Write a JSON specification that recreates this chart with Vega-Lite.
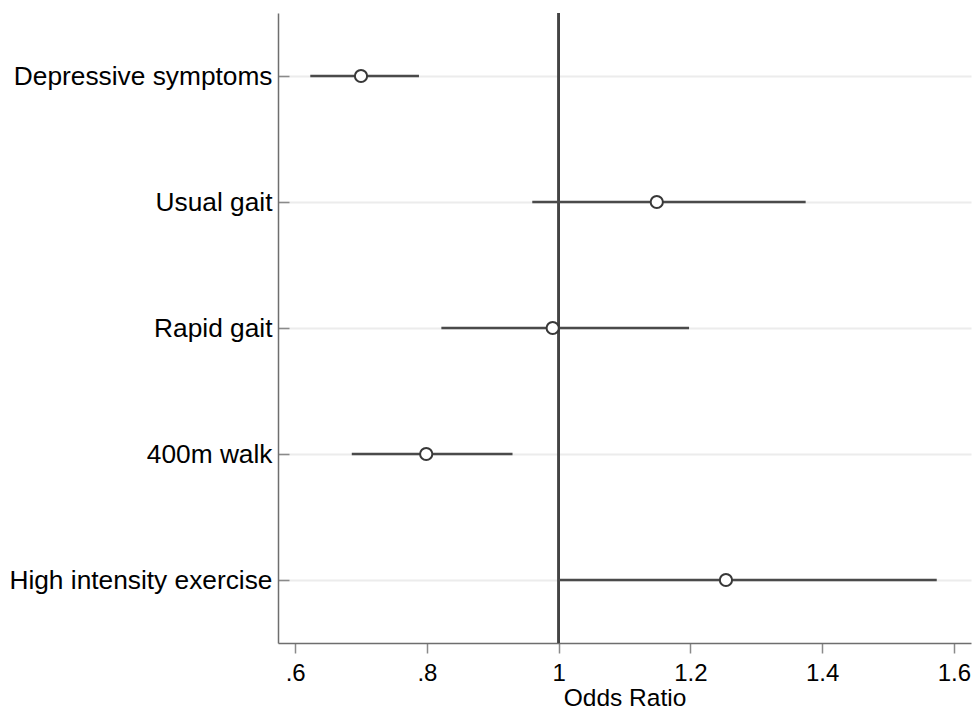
{
  "$schema": "https://vega.github.io/schema/vega-lite/v6.json",
  "autosize": {"type": "none"},
  "width": 693,
  "height": 630,
  "padding": {"left": 278, "top": 13, "right": 3, "bottom": 67},
  "background": "white",
  "config": {
    "view": {"stroke": null},
    "font": "Liberation Sans"
  },
  "data": {
    "values": [
      {"label": "Depressive symptoms", "or": 0.700, "lo": 0.623, "hi": 0.788},
      {"label": "Usual gait", "or": 1.149, "lo": 0.960, "hi": 1.375},
      {"label": "Rapid gait", "or": 0.991, "lo": 0.822, "hi": 1.198},
      {"label": "400m walk", "or": 0.799, "lo": 0.686, "hi": 0.930},
      {"label": "High intensity exercise", "or": 1.254, "lo": 1.000, "hi": 1.574}
    ]
  },
  "encoding": {
    "y": {
      "field": "label",
      "type": "nominal",
      "sort": null,
      "scale": {"type": "point", "padding": 0.5},
      "axis": {
        "title": null,
        "grid": true,
        "gridColor": "#ececec",
        "gridWidth": 2,
        "domainColor": "#6e6e6e",
        "domainWidth": 1.5,
        "tickColor": "#8a8a8a",
        "tickWidth": 1.5,
        "tickSize": -11,
        "labelPadding": 17,
        "labelFontSize": 26.3,
        "labelLimit": 0,
        "labelColor": "#000000",
        "labelFont": "Liberation Sans"
      }
    }
  },
  "layer": [
    {
      "mark": {"type": "rule", "color": "#444444", "strokeWidth": 2},
      "encoding": {
        "x": {"datum": 1, "type": "quantitative"},
        "y": null
      }
    },
    {
      "mark": {"type": "rule", "color": "#4a4a4a", "strokeWidth": 2.5},
      "encoding": {
        "x": {
          "field": "lo",
          "type": "quantitative",
          "scale": {"domain": [0.574, 1.626], "nice": false, "zero": false},
          "axis": {
            "title": "Odds Ratio",
            "titleFontSize": 24.5,
            "titleFontWeight": "normal",
            "titleColor": "#000000",
            "titlePadding": 1,
            "titleFont": "Liberation Sans",
            "values": [0.6, 0.8, 1, 1.2, 1.4, 1.6],
            "labelExpr": "datum.value < 1 ? substring(format(datum.value, '.1f'), 1) : format(datum.value, '~g')",
            "labelFontSize": 24,
            "labelColor": "#000000",
            "labelPadding": 8,
            "labelFlush": false,
            "tickSize": 10,
            "tickColor": "#8a8a8a",
            "tickWidth": 1.5,
            "domainColor": "#6e6e6e",
            "domainWidth": 1.5,
            "grid": false
          }
        },
        "x2": {"field": "hi"}
      }
    },
    {
      "mark": {"type": "point", "shape": "circle", "filled": true, "fill": "white", "stroke": "#383838", "strokeWidth": 2, "size": 150, "opacity": 1},
      "encoding": {
        "x": {"field": "or", "type": "quantitative"}
      }
    }
  ]
}
